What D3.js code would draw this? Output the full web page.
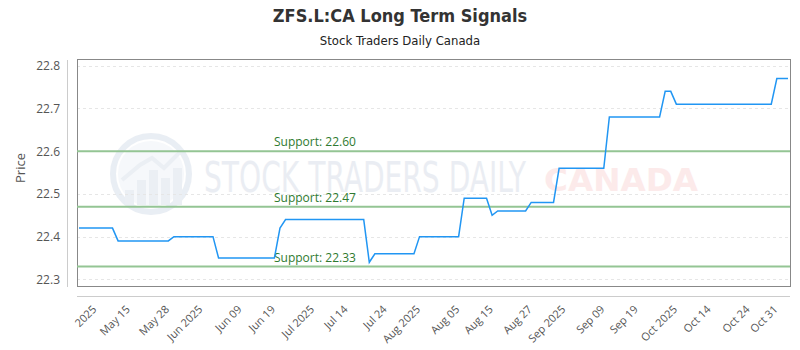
<!DOCTYPE html>
<html>
<head>
<meta charset="utf-8">
<script src="https://cdn.jsdelivr.net/npm/d3@7"></script>
<style>
  html, body { margin: 0; padding: 0; background: #fff; }
  svg { display: block; }
</style>
</head>
<body>
<svg id="chart" width="800" height="350"></svg>
<script>
// ---- data (trading-day index, price) ----
const pointIdx = [0, 6, 7, 16, 17, 24, 25, 35, 36, 37, 51, 52, 53, 60, 61, 68, 69, 73, 74, 75, 80, 81, 85, 86, 94, 95, 104, 105, 106, 107, 124, 125, 127];
const pointVal = [22.42, 22.42, 22.39, 22.39, 22.40, 22.40, 22.35, 22.35, 22.42, 22.44, 22.44, 22.34, 22.36, 22.36, 22.40, 22.40, 22.49, 22.49, 22.45, 22.46, 22.46, 22.48, 22.48, 22.56, 22.56, 22.68, 22.68, 22.74, 22.74, 22.71, 22.71, 22.77, 22.77];
const supportLevels = [22.60, 22.47, 22.33];
const yTicks = [22.3, 22.4, 22.5, 22.6, 22.7, 22.8];
const xTickIdx = [3, 9, 16, 22, 29, 35, 42, 48, 55, 61, 68, 74, 81, 87, 94, 100, 107, 113, 120, 125];
const xTickLabels = ["2025", "May 15", "May 28", "Jun 2025", "Jun 09", "Jun 19", "Jul 2025", "Jul 14", "Jul 24", "Aug 2025", "Aug 05", "Aug 15", "Aug 27", "Sep 2025", "Sep 09", "Sep 19", "Oct 2025", "Oct 14", "Oct 24", "Oct 31"];
const titleText = "ZFS.L:CA Long Term Signals";
const subtitleText = "Stock Traders Daily Canada";

const data = pointIdx.map((d, i) => ({ i: d, v: pointVal[i] }));

const svg = d3.select("#chart");
const plot = { left: 77, right: 790, top: 59.5, bottom: 286.5 };

const x = d3.scaleLinear().domain([0, 127]).range([79, 788]);
const y = d3.scaleLinear().domain([22.2833, 22.8145]).range([plot.bottom, plot.top]);

// Title
svg.append("text").attr("x", 400).attr("y", 22).attr("text-anchor", "middle")
  .attr("font-family", "'Liberation Sans Narrow', 'DejaVu Sans Condensed', sans-serif")
  .attr("font-weight", "bold").attr("font-size", 18).attr("fill", "#333").text(titleText);
svg.append("text").attr("x", 400).attr("y", 45).attr("text-anchor", "middle")
  .attr("font-family", "'Liberation Sans Narrow', 'DejaVu Sans Condensed', sans-serif")
  .attr("font-size", 13).attr("fill", "#222").text(subtitleText);

// Watermark
const wm = svg.append("g").attr("opacity", 0.5);
wm.append("circle").attr("cx", 151).attr("cy", 174).attr("r", 38)
  .attr("fill", "none").attr("stroke", "#d5deea").attr("stroke-width", 6);
wm.append("circle").attr("cx", 151).attr("cy", 174).attr("r", 33).attr("fill", "#eef2f8");
[[125, 190], [137, 180], [149, 170], [161, 178], [173, 168]].forEach(b => {
  wm.append("rect").attr("x", b[0]).attr("y", b[1]).attr("width", 9).attr("height", 205 - b[1]).attr("fill", "#d8e0ea");
});
wm.append("polyline").attr("points", "122,180 140,165 152,158 164,168 182,150")
  .attr("fill", "none").attr("stroke", "#d8e0ea").attr("stroke-width", 4);
wm.append("text").attr("x", 204).attr("y", 192)
  .attr("font-family", "'Liberation Sans Narrow', 'DejaVu Sans Condensed', sans-serif")
  .attr("font-size", 42).attr("fill", "#d7dde8")
  .attr("textLength", 322).attr("lengthAdjust", "spacingAndGlyphs").text("STOCK TRADERS DAILY");
wm.append("text").attr("x", 544).attr("y", 191)
  .attr("font-family", "'DejaVu Sans', sans-serif").attr("font-weight", "bold")
  .attr("font-size", 32).attr("fill", "#fad6d6")
  .attr("textLength", 154).attr("lengthAdjust", "spacingAndGlyphs").text("CANADA");

// Grid lines
svg.append("g").selectAll("line").data(yTicks).join("line")
  .attr("x1", plot.left).attr("x2", plot.right)
  .attr("y1", d => Math.round(y(d)) + 0.5).attr("y2", d => Math.round(y(d)) + 0.5)
  .attr("stroke", "#e6e6e6").attr("stroke-dasharray", "3,3").attr("stroke-width", 1);

// Plot border
svg.append("rect").attr("x", plot.left + 0.5).attr("y", plot.top)
  .attr("width", plot.right - plot.left).attr("height", plot.bottom - plot.top)
  .attr("fill", "none").attr("stroke", "#888").attr("stroke-width", 1);

// Support lines
svg.append("g").selectAll("line").data(supportLevels).join("line")
  .attr("x1", plot.left).attr("x2", plot.right)
  .attr("y1", d => y(d)).attr("y2", d => y(d))
  .attr("stroke", "#94c594").attr("stroke-width", 2);
svg.append("g").selectAll("text").data(supportLevels).join("text")
  .attr("x", 274).attr("y", d => y(d) - 5)
  .attr("font-family", "'Open Sans', sans-serif").attr("font-size", 12)
  .attr("fill", "#2f7a2f").text(d => "Support: " + d.toFixed(2));

// Line
svg.append("path").datum(data)
  .attr("d", d3.line().x(d => x(d.i)).y(d => y(d.v)))
  .attr("fill", "none").attr("stroke", "#2196f3").attr("stroke-width", 1.5);

// Y axis
const yAxis = d3.axisLeft(y).tickValues(yTicks).tickFormat(d3.format(".1f")).tickSize(0).tickPadding(7);
const yg = svg.append("g").attr("transform", "translate(67,0)").call(yAxis);
yg.select(".domain").attr("stroke", "#ccc");
yg.selectAll("text").attr("font-family", "'Open Sans', sans-serif").attr("font-size", 12).attr("fill", "#555");
svg.append("text").attr("transform", "translate(25,168) rotate(-90)").attr("text-anchor", "middle")
  .attr("font-family", "'Open Sans', sans-serif").attr("font-size", 13).attr("fill", "#555").text("Price");

// X axis
const xAxis = d3.axisBottom(x).tickValues(xTickIdx).tickFormat((d, i) => xTickLabels[i]).tickSize(0).tickPadding(0);
const xg = svg.append("g").attr("transform", "translate(0,296)").call(xAxis);
xg.select(".domain").attr("stroke", "#ccc").attr("d", `M${plot.left},0.5H${plot.right}`);
xg.selectAll("text")
  .attr("font-family", "'Open Sans', sans-serif").attr("font-size", 11).attr("fill", "#555")
  .attr("text-anchor", "end").attr("dy", null).attr("y", 0)
  .attr("transform", "translate(1,14) rotate(-45)");
</script>
</body>
</html>
